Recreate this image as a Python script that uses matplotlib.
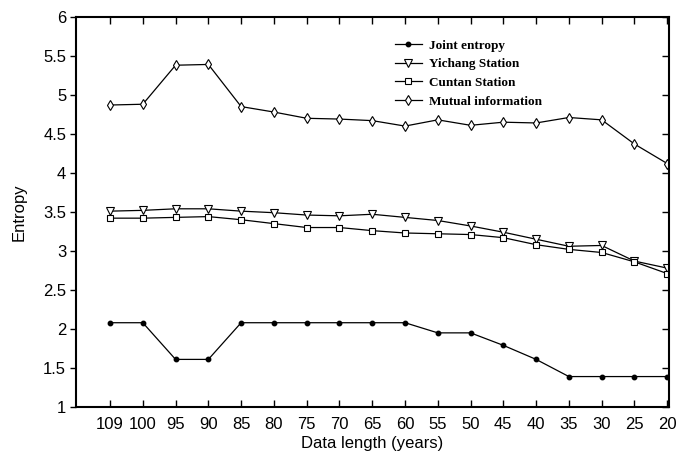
import matplotlib
matplotlib.use("Agg")
import matplotlib.pyplot as plt
from matplotlib.ticker import FuncFormatter

lengths = ["109", "100", "95", "90", "85", "80", "75", "70", "65",
           "60", "55", "50", "45", "40", "35", "30", "25", "20"]
joint = [2.08, 2.08, 1.61, 1.61, 2.08, 2.08, 2.08, 2.08, 2.08,
         2.08, 1.95, 1.95, 1.79, 1.61, 1.39, 1.39, 1.39, 1.39]
yichang = [3.51, 3.52, 3.54, 3.54, 3.51, 3.49, 3.46, 3.45, 3.47,
           3.43, 3.39, 3.32, 3.24, 3.15, 3.06, 3.07, 2.87, 2.78]
cuntan = [3.42, 3.42, 3.43, 3.44, 3.40, 3.35, 3.30, 3.30, 3.26,
          3.23, 3.22, 3.21, 3.17, 3.08, 3.02, 2.98, 2.86, 2.71]
mutual = [4.87, 4.88, 5.38, 5.39, 4.85, 4.78, 4.70, 4.69, 4.67,
          4.60, 4.68, 4.61, 4.65, 4.64, 4.71, 4.68, 4.37, 4.12]

x = list(range(len(lengths)))

plt.rcParams["font.family"] = ["Liberation Sans", "DejaVu Sans"]

fig = plt.figure(figsize=(6.78, 4.59), dpi=100)
ax = fig.add_axes([0.112, 0.1133, 0.875, 0.85])

lw = 0.9
ax.plot(x, joint, color="black", lw=lw, marker="o", ms=3.2, mfc="black",
        label="Joint entropy")
ax.plot(x, yichang, color="black", lw=lw, marker="v", ms=5.2, mfc="white",
        mew=0.8, label="Yichang Station")
ax.plot(x, cuntan, color="black", lw=lw, marker="s", ms=3.8, mfc="white",
        mew=0.8, label="Cuntan Station")
ax.plot(x, mutual, color="black", lw=lw, marker="d", ms=5.5, mfc="white",
        mew=0.8, label="Mutual information")

ax.set_xlim(-1.04, 17.06)
ax.set_ylim(1, 6)
ax.set_xticks(x)
ax.set_xticklabels(lengths)
ax.set_yticks([1, 1.5, 2, 2.5, 3, 3.5, 4, 4.5, 5, 5.5, 6])
ax.yaxis.set_major_formatter(FuncFormatter(lambda v, p: "%g" % v))

ax.tick_params(axis="x", direction="in", top=True, length=5,
               width=1, labelsize=12, pad=7)
ax.tick_params(axis="y", direction="out", right=True, length=4,
               width=1, labelsize=12, pad=3)
for t in ax.yaxis.get_major_ticks():
    t.tick2line.set_marker(matplotlib.lines.TICKLEFT)
    t.tick2line.set_markersize(5)
for s in ax.spines.values():
    s.set_linewidth(1.5)

ax.set_xlabel("Data length (years)", fontsize=12, labelpad=3)
ax.set_ylabel("Entropy", fontsize=12, labelpad=12)

leg = ax.legend(loc="upper left", bbox_to_anchor=(0.518, 0.972),
                frameon=False, handlelength=2.0, handletextpad=0.6,
                labelspacing=0.48,
                prop={"family": "Liberation Serif", "weight": "bold", "size": 9.5})

fig.savefig("out.png", dpi=100)
